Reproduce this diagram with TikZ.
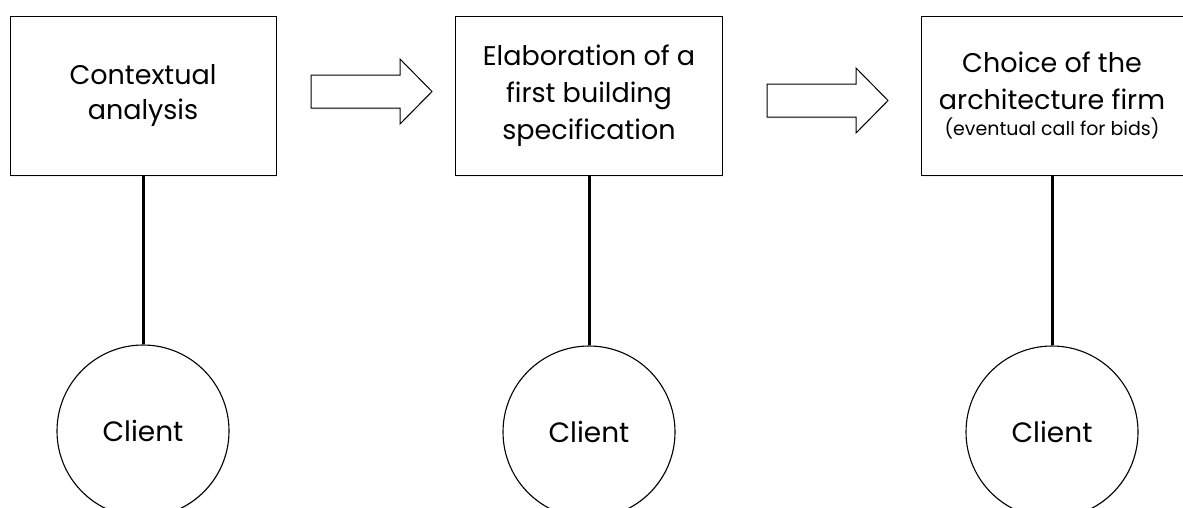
\documentclass[tikz,border=0pt]{standalone}
\usepackage{fontspec}
\setmainfont{Poppins}
\usetikzlibrary{shadows}
\tikzset{
  softshadow/.style={drop shadow={opacity=.12,shadow xshift=.6pt,shadow yshift=-1.5pt}},
  stage/.style={draw=black,line width=1pt,fill=white,softshadow,minimum width=266pt,
    minimum height=159pt,align=center,inner sep=0pt,font=\fontsize{27}{37}\selectfont},
  client/.style={circle,draw=black,line width=1.1pt,fill=white,softshadow,
    minimum size=172pt,inner sep=0pt,font=\fontsize{28}{32}\selectfont},
  link/.style={line width=3pt},
  flow/.style={draw=black,line width=1pt,fill=white,softshadow},
  bigarrow/.pic={\path[flow] (0,-16.5) -- (89,-16.5) -- (89,-32.5) -- (121,0)
    -- (89,32.5) -- (89,16.5) -- (0,16.5) -- cycle;}
}
\begin{document}
\begin{tikzpicture}[x=1pt,y=-1pt]
\useasboundingbox (0,0) rectangle (1183,507);
% the three stages
\node[stage] (context) at (143,95.5) {Contextual\\[-2pt]analysis};
\node[stage,minimum width=267pt] (spec) at (589,95.5) {Elaboration of a\\first building\\specification};
\node[stage,minimum width=262pt] (firm) at (1052,95.5) {Choice of the\\architecture firm\\[-11pt]{\fontsize{19}{23}\selectfont(eventual call for bids)}};
% big hollow arrows between them
\pic at (311,91.5) {bigarrow};
\pic at (767,100.5) {bigarrow};
% the client below each stage
\node[client] (client1) at (143,431) {\raisebox{-5pt}{Client}};
\node[client] (client2) at (589,432) {\raisebox{-5pt}{Client}};
\node[client] (client3) at (1052,432) {\raisebox{-5pt}{Client}};
\draw[link] (context) -- (client1);
\draw[link] (spec) -- (client2);
\draw[link] (firm) -- (client3);
\end{tikzpicture}
\end{document}
